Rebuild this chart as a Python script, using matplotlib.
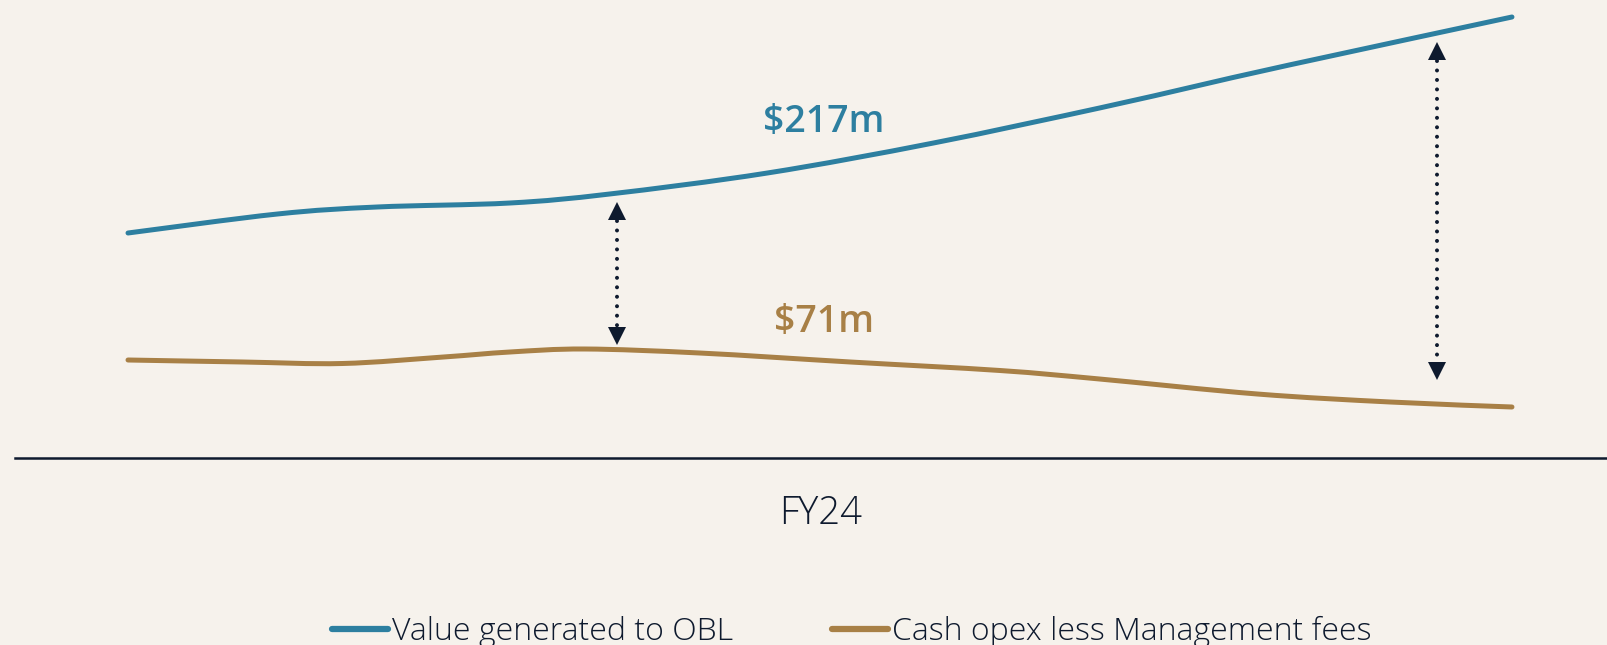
import numpy as np
import matplotlib.pyplot as plt
from matplotlib.path import Path
from matplotlib.patches import PathPatch
from matplotlib.lines import Line2D

# Position through FY24 (% of year) and chart-unit levels for each series
value_pos = [0, 10.8, 18.0, 27.6, 34.8, 46.2, 58.2, 70.2, 77.2, 83.9, 100]
value_obl = [225, 244, 251, 255, 264, 285, 315, 350, 372, 393, 441]

opex_pos = [0, 8.3, 15.5, 22.8, 27.6, 33.0, 41.3, 52.2, 63.0, 70.2, 81.6, 91.2, 100]
opex_net = [98, 96, 94.5, 101, 106, 109, 105, 96, 87.5, 79, 64, 56, 51]

series_names = ["Value generated to OBL", "Cash opex less Management fees"]
value_labels = ["$217m", "$71m"]
period_label = "FY24"

# Gap arrows between the two series: position, top level, bottom level
arrow_pos = [35.3, 94.6]
arrow_top = [253, 413]
arrow_bottom = [116, 81]

BLUE = "#2d7fa0"
BROWN = "#a88046"
NAVY = "#0e1a2e"
BG = "#f6f2ec"


def smooth_path(xs, ys):
    """Cubic Bezier path through every point (Catmull-Rom tangents)."""
    pts = np.column_stack([xs, ys]).astype(float)
    padded = np.vstack([pts[0], pts, pts[-1]])
    verts = [pts[0]]
    codes = [Path.MOVETO]
    for i in range(len(pts) - 1):
        p0, p1, p2, p3 = padded[i], padded[i + 1], padded[i + 2], padded[i + 3]
        verts += [p1 + (p2 - p0) / 6, p2 - (p3 - p1) / 6, p2]
        codes += [Path.CURVE4] * 3
    return Path(verts, codes)


fig = plt.figure(figsize=(16.08, 6.45), dpi=100, facecolor=BG)
ax = fig.add_axes([0, 0, 1, 1])
ax.set_facecolor(BG)
ax.set_xlim(-9.25, 106.94)
ax.set_ylim(-187, 458)
ax.axis("off")

for xs, ys, c in [(value_pos, value_obl, BLUE), (opex_pos, opex_net, BROWN)]:
    ax.add_patch(PathPatch(smooth_path(xs, ys), facecolor="none", edgecolor=c,
                           lw=3.6, capstyle="round", joinstyle="round"))

# baseline
ax.axhline(0, xmin=15 / 1608, xmax=1, color=NAVY, lw=1.8)

for x, top, bot in zip(arrow_pos, arrow_top, arrow_bottom):
    ax.plot([x, x], [top - 16, bot + 16], color=NAVY, lw=2.9,
            linestyle=(0, (0.001, 2.35)), dash_capstyle="round")
    ax.plot([x], [top - 6], marker="^", color=NAVY, markersize=13, mew=0)
    ax.plot([x], [bot + 6], marker="v", color=NAVY, markersize=13, mew=0)

ax.text(50.3, 336, value_labels[0], color=BLUE, fontsize=27, fontweight="semibold",
        family="Open Sans", ha="center", va="center")
ax.text(50.3, 136, value_labels[1], color=BROWN, fontsize=27, fontweight="semibold",
        family="Open Sans", ha="center", va="center")

fig.text(821 / 1608, 1 - 514 / 645, period_label, color=NAVY, fontsize=27.5,
         fontweight="light", family="Open Sans", ha="center", va="center")

handles = [Line2D([], [], color=BLUE, lw=4.5, solid_capstyle="round"),
           Line2D([], [], color=BROWN, lw=4.5, solid_capstyle="round")]
leg = fig.legend(handles, series_names, loc="center left",
                 bbox_to_anchor=(332 / 1608, 1 - 632 / 645), ncol=2, frameon=False,
                 prop={"family": "Open Sans", "weight": "light", "size": 23},
                 handlelength=1.75, handletextpad=0.12, columnspacing=3.1,
                 borderpad=0, borderaxespad=0)
for t in leg.get_texts():
    t.set_color(NAVY)

fig.savefig("out.png", dpi=100, facecolor=BG)
